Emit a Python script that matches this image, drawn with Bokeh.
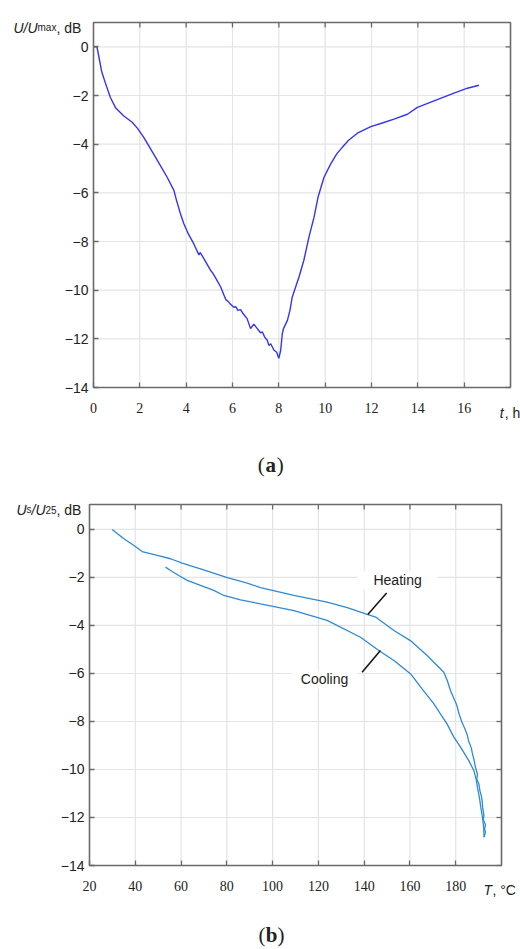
import math
from bokeh.plotting import figure
from bokeh.models import Range1d, FixedTicker, Label, LinearAxis
from bokeh.core.properties import value
from bokeh.embed import file_html
from bokeh.resources import INLINE

# ---------------- data: chart (a) ----------------
t_hours = [0, 0.15, 0.25, 0.35, 0.5, 0.73, 0.95, 1.31, 1.67, 1.9, 2.17, 2.68, 3.18, 3.47, 3.59,
           3.75, 3.9, 4.1, 4.33, 4.55, 4.6, 4.7, 5.05, 5.15, 5.3, 5.49, 5.63, 5.72, 5.8, 5.92,
           6.06, 6.15, 6.23, 6.35, 6.46, 6.63, 6.78, 6.92, 7.07, 7.21, 7.29, 7.39, 7.5, 7.57,
           7.65, 7.79, 7.9, 8.0, 8.08, 8.15, 8.2, 8.37, 8.48, 8.58, 8.87, 9.08, 9.3, 9.52, 9.7,
           9.95, 10.24, 10.5, 10.74, 11.0, 11.39, 11.97, 12.5, 12.97, 13.55, 13.98, 14.7, 15.56,
           16.14, 16.64]
u_db = [0, 0, -0.5, -1.0, -1.45, -2.08, -2.5, -2.84, -3.1, -3.35, -3.72, -4.54, -5.36, -5.9, -6.33,
        -6.85, -7.27, -7.7, -8.1, -8.55, -8.45, -8.6, -9.18, -9.3, -9.55, -9.87, -10.2, -10.4, -10.45, -10.58,
        -10.7, -10.68, -10.83, -10.8, -10.97, -11.17, -11.58, -11.4, -11.58, -11.75, -11.72, -11.93, -12.06, -12.27,
        -12.2, -12.47, -12.54, -12.8, -12.47, -11.79, -11.58, -11.24, -10.83, -10.28, -9.46, -8.77, -7.82, -7.0, -6.15,
        -5.36, -4.81, -4.4, -4.13, -3.85, -3.55, -3.28, -3.12, -2.97, -2.77, -2.49, -2.22, -1.9,
        -1.7, -1.58]

a_x_ticks = [0, 2, 4, 6, 8, 10, 12, 14, 16]
a_x_grid = [2, 4, 6, 8, 10, 12, 14, 16]
a_y_ticks = [0, -2, -4, -6, -8, -10, -12, -14]
a_xlim = (0, 18)
a_ylim = (-14, 1)

# ---------------- data: chart (b) ----------------
heat_T = [29.9, 35, 39.4, 43, 49.6, 55.4, 60.5, 68.5, 80.2, 88.9, 94.7, 109.3, 123.8, 132.6, 141.3,
          145, 153, 160.2, 167.5, 174.8, 176.3, 177.7, 179, 180.4, 181.5, 182.6, 184, 185, 185.6,
          186.8, 187.2, 188.0, 188.6, 189.5, 189.2, 190.1, 190.6, 191.2, 191.6, 191.8, 192.3, 192.1,
          193, 192.6, 193, 192.4]
heat_db = [0, -0.39, -0.67, -0.92, -1.08, -1.22, -1.4, -1.64, -2.01, -2.24, -2.42, -2.75, -3.03, -3.26, -3.54,
           -3.65, -4.21, -4.63, -5.25, -5.95, -6.29, -6.71, -7.0, -7.3, -7.7, -8.0, -8.3, -8.55, -8.8,
           -9.1, -9.3, -9.6, -9.9, -10.2, -10.4, -10.6, -10.9, -11.1, -11.35, -11.6, -11.9, -12.1,
           -12.3, -12.5, -12.6, -12.82]
cool_T = [53.2, 55.4, 59, 62.7, 68.5, 74.3, 78.7, 86, 94.7, 109.3, 123.8, 138.4, 146.4, 153, 160.2,
          165.3, 170.4, 173.3, 176.2, 179.2, 182.1, 185.7, 187.9, 188.9, 189.6, 190.4, 191.0, 191.7,
          192.2, 192.4]
cool_db = [-1.57, -1.71, -1.92, -2.12, -2.33, -2.54, -2.75, -2.93, -3.1, -3.38, -3.79, -4.49, -5.04, -5.46, -6.01,
           -6.64, -7.26, -7.68, -8.1, -8.65, -9.07, -9.63, -10.04, -10.4, -10.8, -11.2, -11.6, -12.0,
           -12.4, -12.82]

b_x_ticks = [20, 40, 60, 80, 100, 120, 140, 160, 180]
b_x_grid = [40, 60, 80, 100, 120, 140, 160, 180]
b_y_ticks = [0, -2, -4, -6, -8, -10, -12, -14]
b_xlim = (20, 200)
b_ylim = (-14, 1.04)

note_text = ["Heating", "Cooling"]
note_x = [154.6, 122.7]
note_y = [-2.12, -6.25]
note_box_w = [80, 66]
lead_x0 = [149.8, 139.1]
lead_y0 = [-2.65, -5.95]
lead_x1 = [141.6, 147.1]
lead_y1 = [-3.54, -5.04]

FRAME = "#6a6a6a"
GRID = "#e4e4e4"
INK = "#222222"
SANS = "Liberation Sans"
SERIF = "Liberation Serif"


def minus(v):
    return ("\u2212" + str(abs(v))) if v < 0 else str(v)


def make_fig(width, height, box, xlim, ylim, xt, yt, xgrid):
    """box = pixel edges (left, top, right, bottom) of the plot box inside the canvas."""
    l, t, r, b = box
    ppx = (r - l) / (xlim[1] - xlim[0])
    ppy = (b - t) / (ylim[1] - ylim[0])
    p = figure(width=width, height=height, output_backend="svg", toolbar_location=None,
               x_range=Range1d(xlim[0] - l / ppx, xlim[1] + (width - r) / ppx),
               y_range=Range1d(ylim[0] - (height - b) / ppy, ylim[1] + t / ppy),
               x_axis_location=None, y_axis_location=None, min_border=0)
    p.outline_line_color = None
    p.background_fill_color = "white"
    p.border_fill_color = "white"
    for g in p.grid:
        g.visible = False
    # grid lines, limited to the plot box
    p.segment(xgrid, [ylim[0]] * len(xgrid), xgrid, [ylim[1]] * len(xgrid),
              line_color=GRID, line_width=1.2)
    p.segment([xlim[0]] * len(yt), yt, [xlim[1]] * len(yt), yt, line_color=GRID, line_width=1.2)
    # axes fixed on the box edges
    xa = LinearAxis(fixed_location=ylim[0], bounds=xlim, ticker=FixedTicker(ticks=xt),
                    major_label_overrides={v: str(v) for v in xt})
    ya = LinearAxis(fixed_location=xlim[0], bounds=ylim, ticker=FixedTicker(ticks=yt),
                    major_label_overrides={v: minus(v) for v in yt})
    for ax, font in ((xa, SERIF), (ya, SANS)):
        ax.axis_line_color = None
        ax.major_tick_in = 5
        ax.major_tick_out = 0
        ax.major_tick_line_color = FRAME
        ax.major_tick_line_width = 1.3
        ax.minor_tick_line_color = None
        ax.major_label_text_font = font
        ax.major_label_text_font_size = "14px"
        ax.major_label_text_color = INK
    xa.major_label_standoff = 15
    ya.major_label_standoff = 5
    p.add_layout(xa, "below")
    p.add_layout(ya, "left")
    # inward ticks on the top and right edges
    p.ray(xgrid, [ylim[1]] * len(xgrid), length=5, length_units="screen", angle=-math.pi / 2,
          line_color=FRAME, line_width=1.3)
    p.ray([xlim[1]] * len(yt), yt, length=5, length_units="screen", angle=math.pi,
          line_color=FRAME, line_width=1.3)
    return p


def draw_box(p, xlim, ylim):
    p.quad(left=[xlim[0]], right=[xlim[1]], bottom=[ylim[0]], top=[ylim[1]],
           fill_color=None, line_color=FRAME, line_width=1.6)


def txt(p, x, y, s, off=0, italic=False, size="14px", font=SANS, align="left",
        baseline="alphabetic", bold=False):
    st = "italic" if italic else ("bold" if bold else "normal")
    p.add_layout(Label(x=x, y=y, x_offset=off, text=s, text_font=font, text_font_size=size,
                       text_font_style=st, text_align=align, text_baseline=baseline,
                       text_color=INK))


# ---------------- figure (a) ----------------
pa = make_fig(520, 490, (93, 22, 510, 387), a_xlim, a_ylim, a_x_ticks, a_y_ticks, a_x_grid)
pa.line(t_hours, u_db, line_color="#3434f4", line_width=1.4)
draw_box(pa, a_xlim, a_ylim)

txt(pa, 0, 0.78, "U", off=-80, italic=True)
txt(pa, 0, 0.78, "/", off=-70, italic=True)
txt(pa, 0, 0.78, "U", off=-66, italic=True)
txt(pa, 0, 0.78, "max", off=-56, size="10px")
txt(pa, 0, 0.78, ", dB", off=-37)
txt(pa, 17.54, -15.05, "t", italic=True)
txt(pa, 17.54, -15.05, ", h", off=5)
txt(pa, 7.65, -17.18, "a", size="21px", font=SERIF, align="center", baseline="middle", bold=True)
txt(pa, 7.65, -17.18, "(", off=-6, size="21px", font=SERIF, align="right", baseline="middle")
txt(pa, 7.65, -17.18, ")", off=6, size="21px", font=SERIF, align="left", baseline="middle")

# ---------------- figure (b) ----------------
pb = make_fig(520, 459, (89, 14, 501, 375), b_xlim, b_ylim, b_x_ticks, b_y_ticks, b_x_grid)
pb.rect(note_x, note_y, width=note_box_w, height=18, width_units="screen", height_units="screen",
        fill_color="white", line_color=None)
pb.line(heat_T, heat_db, line_color="#2d8ad6", line_width=1.3)
pb.line(cool_T, cool_db, line_color="#2d8ad6", line_width=1.3)
draw_box(pb, b_xlim, b_ylim)
pb.segment(lead_x0, lead_y0, lead_x1, lead_y1, line_color="#111111", line_width=1.5)
pb.text(note_x, note_y, text=note_text, text_align="center", text_baseline="middle",
        text_font=value(SANS), text_font_size="14px", text_color=INK)

txt(pb, 20, 0.82, "U", off=-73, italic=True)
txt(pb, 20, 0.82, "s", off=-63, size="10px")
txt(pb, 20, 0.82, "/", off=-58, italic=True)
txt(pb, 20, 0.82, "U", off=-54, italic=True)
txt(pb, 20, 0.82, "25", off=-44, size="10px")
txt(pb, 20, 0.82, ", dB", off=-33)
txt(pb, 192.1, -15.04, "T", italic=True)
txt(pb, 192.1, -15.04, ", \u00b0C", off=9)
txt(pb, 99.5, -16.9, "b", size="21px", font=SERIF, align="center", baseline="middle", bold=True)
txt(pb, 99.5, -16.9, "(", off=-6, size="21px", font=SERIF, align="right", baseline="middle")
txt(pb, 99.5, -16.9, ")", off=6, size="21px", font=SERIF, align="left", baseline="middle")

open("out.html", "w").write(file_html([pa, pb], INLINE))
